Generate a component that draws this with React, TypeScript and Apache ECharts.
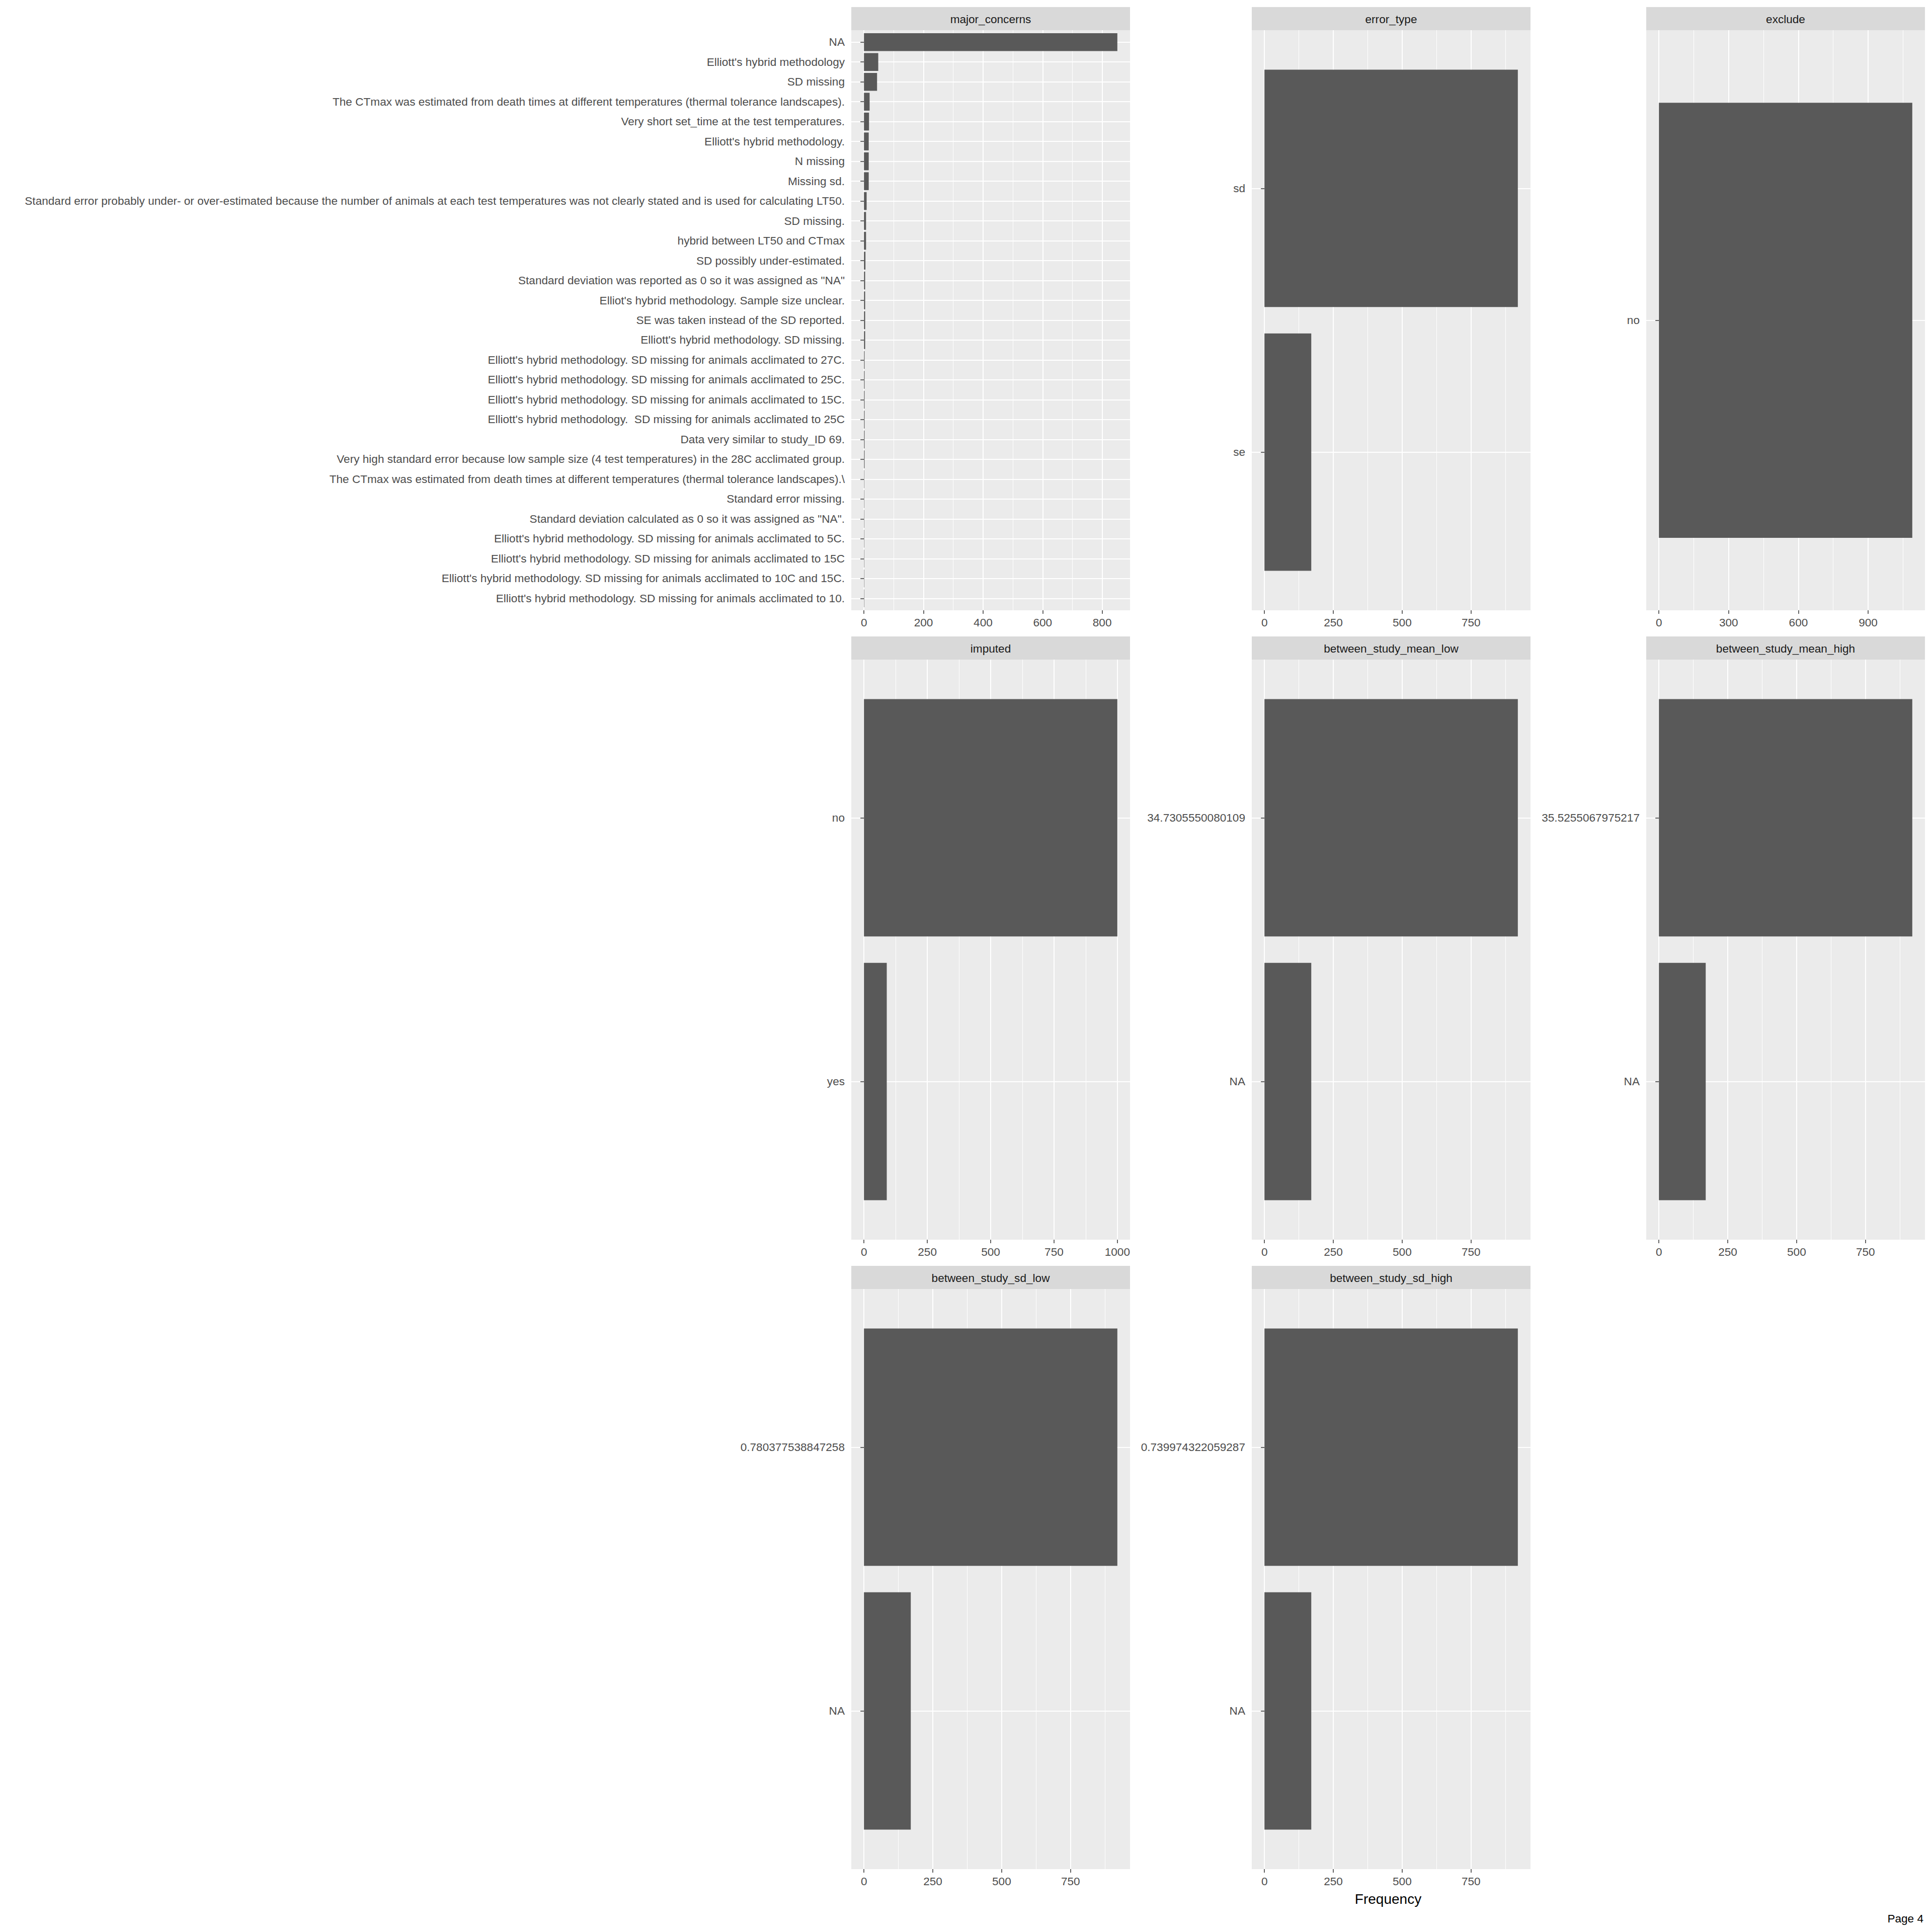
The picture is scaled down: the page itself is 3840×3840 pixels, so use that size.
import React, { useEffect, useRef } from "react";
import * as echarts from "echarts";

// ---------------- data ----------------
const majorConcernLabels = [
  "NA",
  "Elliott's hybrid methodology",
  "SD missing",
  "The CTmax was estimated from death times at different temperatures (thermal tolerance landscapes).",
  "Very short set_time at the test temperatures.",
  "Elliott's hybrid methodology.",
  "N missing",
  "Missing sd.",
  "Standard error probably under- or over-estimated because the number of animals at each test temperatures was not clearly stated and is used for calculating LT50.",
  "SD missing.",
  "hybrid between LT50 and CTmax",
  "SD possibly under-estimated.",
  'Standard deviation was reported as 0 so it was assigned as "NA"',
  "Elliot's hybrid methodology. Sample size unclear.",
  "SE was taken instead of the SD reported.",
  "Elliott's hybrid methodology. SD missing.",
  "Elliott's hybrid methodology. SD missing for animals acclimated to 27C.",
  "Elliott's hybrid methodology. SD missing for animals acclimated to 25C.",
  "Elliott's hybrid methodology. SD missing for animals acclimated to 15C.",
  "Elliott's hybrid methodology.  SD missing for animals acclimated to 25C",
  "Data very similar to study_ID 69.",
  "Very high standard error because low sample size (4 test temperatures) in the 28C acclimated group.",
  "The CTmax was estimated from death times at different temperatures (thermal tolerance landscapes).\\",
  "Standard error missing.",
  'Standard deviation calculated as 0 so it was assigned as "NA".',
  "Elliott's hybrid methodology. SD missing for animals acclimated to 5C.",
  "Elliott's hybrid methodology. SD missing for animals acclimated to 15C",
  "Elliott's hybrid methodology. SD missing for animals acclimated to 10C and 15C.",
  "Elliott's hybrid methodology. SD missing for animals acclimated to 10.",
];
const majorConcernCounts = [
  851, 48, 44, 19, 17, 16, 16, 16, 9, 7, 7, 5, 4, 4, 4, 4, 2, 2, 2, 2, 2, 2, 1, 1, 1, 1, 1, 1, 1,
];

const errorTypeLabels = ["sd", "se"];
const errorTypeCounts = [920, 170];

const excludeLabels = ["no"];
const excludeCounts = [1090];

const imputedLabels = ["no", "yes"];
const imputedCounts = [1000, 90];

const meanLowLabels = ["34.7305550080109", "NA"];
const meanLowCounts = [920, 170];

const meanHighLabels = ["35.5255067975217", "NA"];
const meanHighCounts = [920, 170];

const sdLowLabels = ["0.780377538847258", "NA"];
const sdLowCounts = [920, 170];

const sdHighLabels = ["0.739974322059287", "NA"];
const sdHighCounts = [920, 170];

const ticks200 = [0, 200, 400, 600, 800];
const minor200 = [100, 300, 500, 700];
const ticks250 = [0, 250, 500, 750];
const minor250 = [125, 375, 625, 875];
const ticks250to1000 = [0, 250, 500, 750, 1000];
const ticks300 = [0, 300, 600, 900];
const minor300 = [150, 450, 750, 1050];

const xAxisTitle = "Frequency";
const pageLabel = "Page 4";

// ---------------- panels ----------------
const panels = [
  { title: "major_concerns", labels: majorConcernLabels, counts: majorConcernCounts, ticks: ticks200, minor: minor200, col: 0, row: 0 },
  { title: "error_type", labels: errorTypeLabels, counts: errorTypeCounts, ticks: ticks250, minor: minor250, col: 1, row: 0 },
  { title: "exclude", labels: excludeLabels, counts: excludeCounts, ticks: ticks300, minor: minor300, col: 2, row: 0 },
  { title: "imputed", labels: imputedLabels, counts: imputedCounts, ticks: ticks250to1000, minor: minor250, col: 0, row: 1 },
  { title: "between_study_mean_low", labels: meanLowLabels, counts: meanLowCounts, ticks: ticks250, minor: minor250, col: 1, row: 1 },
  { title: "between_study_mean_high", labels: meanHighLabels, counts: meanHighCounts, ticks: ticks250, minor: minor250, col: 2, row: 1 },
  { title: "between_study_sd_low", labels: sdLowLabels, counts: sdLowCounts, ticks: ticks250, minor: minor250, col: 0, row: 2 },
  { title: "between_study_sd_high", labels: sdHighLabels, counts: sdHighCounts, ticks: ticks250, minor: minor250, col: 1, row: 2 },
];

// ---------------- layout ----------------
const FONT = "'Liberation Sans', Arial, Helvetica, sans-serif";
const FS = 22.6;
const colLeft = [1692, 2488, 3272];
const panelW = 554;
const rowTop = [14, 1265, 2516];
const stripH = 46;
const dataH = 1153;
const axisTextColor = "#4D4D4D";
const tickColor = "#333333";
const panelBg = "#EBEBEB";
const stripBg = "#D9D9D9";
const barColor = "#595959";

function buildOption() {
  const grid: any[] = [];
  const xAxis: any[] = [];
  const yAxis: any[] = [];
  const series: any[] = [];
  const graphic: any[] = [];

  panels.forEach((p, i) => {
    const left = colLeft[p.col];
    const top = rowTop[p.row];
    const dataTop = top + stripH;
    const maxV = Math.max(...p.counts);
    const xmin = -0.05 * maxV;
    const xmax = 1.05 * maxV;
    const n = p.labels.length;
    const unit = dataH / (n + 0.2);

    // Grid A: full panel background + x gridlines + x labels
    grid.push({
      left, top: dataTop, width: panelW, height: dataH,
      show: true, backgroundColor: panelBg, borderWidth: 0,
      containLabel: false, outerBoundsMode: "none",
    });
    // Grid B: inset to mimic ggplot discrete expansion
    grid.push({
      left, top: dataTop + 0.1 * unit, width: panelW, height: n * unit,
      show: false, containLabel: false, outerBoundsMode: "none",
    });
    const gA = 2 * i;
    const gB = 2 * i + 1;

    xAxis.push({
      gridIndex: gA, type: "value", min: xmin, max: xmax, position: "bottom",
      axisLine: { show: false },
      axisTick: { show: true, length: 7, lineStyle: { color: tickColor, width: 1.5 }, customValues: p.ticks },
      axisLabel: {
        show: true, customValues: p.ticks, color: axisTextColor, fontSize: FS, fontFamily: FONT, margin: 13,
        formatter: (v: number) => String(v),
      },
      splitLine: { show: true, lineStyle: { color: "#FFFFFF", width: 2 } },
      minorSplitLine: { show: false },
    });
    xAxis.push({
      gridIndex: gA, type: "value", min: xmin, max: xmax, position: "top",
      axisLine: { show: false },
      axisTick: { show: false, customValues: p.minor },
      axisLabel: { show: false, customValues: p.minor },
      splitLine: { show: true, lineStyle: { color: "#FFFFFF", width: 1 } },
    });
    xAxis.push({
      gridIndex: gB, type: "value", min: xmin, max: xmax, show: false,
      splitLine: { show: false },
    });
    const xB = 3 * i + 2;

    yAxis.push({
      gridIndex: gA, type: "value", min: 0, max: 1, show: false,
      splitLine: { show: false },
    });
    yAxis.push({
      gridIndex: gB, type: "category", data: p.labels, inverse: true,
      axisLine: { show: false },
      axisTick: { show: true, alignWithLabel: true, interval: 0, length: 7, lineStyle: { color: tickColor, width: 1.5 } },
      axisLabel: { show: true, interval: 0, color: axisTextColor, fontSize: FS, fontFamily: FONT, margin: 13 },
      splitLine: { show: true, alignWithLabel: true, interval: 0, lineStyle: { color: "#FFFFFF", width: 2 } },
    });
    const yB = 2 * i + 1;

    series.push({
      type: "bar",
      xAxisIndex: xB,
      yAxisIndex: yB,
      data: p.counts,
      barWidth: "90%",
      itemStyle: { color: barColor },
      silent: true,
      z: 3,
    });

    // strip
    graphic.push({
      type: "rect",
      shape: { x: left, y: top, width: panelW, height: stripH },
      style: { fill: stripBg },
      silent: true,
    });
    graphic.push({
      type: "text",
      x: left + panelW / 2,
      y: top + stripH / 2 + 1,
      style: {
        text: p.title, fill: "#1A1A1A", fontSize: FS, fontFamily: FONT,
        textAlign: "center", textVerticalAlign: "middle",
      },
      silent: true,
    });
  });

  graphic.push({
    type: "text",
    x: (colLeft[0] + colLeft[2] + panelW) / 2,
    y: 3774,
    style: { text: xAxisTitle, fill: "#000000", fontSize: 28, fontFamily: FONT, textAlign: "center", textVerticalAlign: "middle" },
    silent: true,
  });
  graphic.push({
    type: "text",
    x: 3823,
    y: 3813,
    style: { text: pageLabel, fill: "#000000", fontSize: FS, fontFamily: FONT, textAlign: "right", textVerticalAlign: "middle" },
    silent: true,
  });

  return {
    animation: false,
    backgroundColor: "#FFFFFF",
    textStyle: { fontFamily: FONT },
    grid, xAxis, yAxis, series, graphic,
  };
}

export default function App() {
  const ref = useRef<HTMLDivElement>(null);
  useEffect(() => {
    document.body.style.margin = "0";
    if (!ref.current) return;
    const chart = echarts.init(ref.current, undefined, { renderer: "svg", width: 3840, height: 3840 });
    chart.setOption(buildOption() as any);
    return () => chart.dispose();
  }, []);
  return <div ref={ref} style={{ width: 3840, height: 3840 }} />;
}
